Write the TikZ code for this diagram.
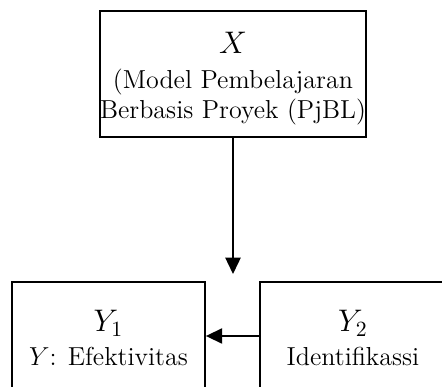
\documentclass[tikz,border=0pt]{standalone}
\usetikzlibrary{arrows.meta}
\newcommand{\bigmath}[1]{{\fontsize{14.4}{17}\selectfont$#1$}}
\begin{document}
\begin{tikzpicture}[x=0.4615pt,y=-0.4615pt,
  box/.style={draw, line width=0.8pt, align=center, inner sep=0pt,
    font=\fontsize{12}{14}\selectfont},
  arr/.style={line width=0.8pt, -{Triangle[length=7.5pt,width=7pt]}}]
\useasboundingbox (0,0) rectangle (442,387);
\clip (0,0) rectangle (442,387);
\node[box, minimum width=118.1pt, minimum height=58.1pt] (x) at (233,74)
  {\rule{0pt}{14.2pt}\bigmath{X}\\[2pt](Model Pembelajaran\\Berbasis Proyek (PjBL)};
\node[box, minimum width=89.1pt, minimum height=49.8pt] (y1) at (108.5,336)
  {\rule{0pt}{11.8pt}\bigmath{Y_1}\\[1.7pt]$Y$: Efektivitas};
\node[box, minimum width=85.8pt, minimum height=49.8pt] (y2) at (353,336)
  {\rule{0pt}{11.8pt}\bigmath{Y_2}\\[1.7pt]Identifikassi};
\coordinate (tip) at (233,274);
\draw[arr] (x.south) -- (tip);
\draw[arr] (y2.west) -- (y1.east |- y2.west);
\end{tikzpicture}
\end{document}
